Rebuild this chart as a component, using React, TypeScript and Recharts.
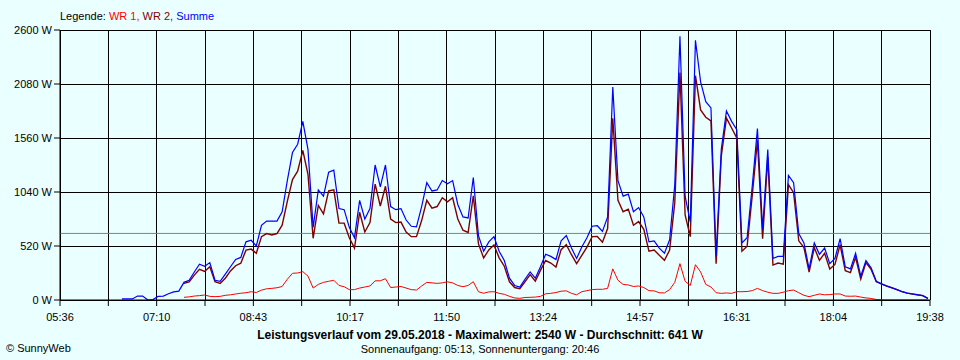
import { LineChart, Line, XAxis, YAxis, CartesianGrid, ReferenceLine } from "recharts";

// x axis: minutes since midnight, 05:36 .. 19:38, one grid line every 1/18 of the day span
const dayStart = 336;
const dayEnd = 1178;
const timeLabels = ["05:36", "07:10", "08:43", "10:17", "11:50", "13:24", "14:57", "16:31", "18:04", "19:38"];
const powerTicks = [0, 520, 1040, 1560, 2080, 2600];
const average = 641;

// samples every 5 minutes starting 06:36
const firstSample = 396;
const sampleStep = 5;

const summe = [
  10, 10, 10, 38, 38, 0, 5, 35, 38, 60,
  78, 85, 170, 190, 270, 345, 325, 360, 190, 180,
  250, 320, 390, 410, 560, 575, 520, 720, 760, 760,
  760, 850, 1150, 1420, 1500, 1720, 1450, 700, 1060, 1000,
  1230, 1250, 880, 870, 700, 600, 960, 780, 880, 1300,
  1090, 1300, 900, 870, 880, 770, 710, 705, 900, 1130,
  1050, 1060, 1150, 1120, 1150, 920, 800, 790, 1180, 620,
  470, 560, 610, 470, 380, 210, 140, 125, 200, 270,
  210, 320, 440, 420, 390, 570, 620, 500, 400, 510,
  600, 710, 715, 660, 800, 2050, 1150, 1000, 1020, 850,
  890, 800, 560, 570, 500, 450, 580, 1110, 2540, 1000,
  750, 2500, 2100, 1910, 1850, 420, 1450, 1820, 1720, 1640,
  550, 600, 1100, 1650, 680, 1450, 400, 420, 420, 1200,
  1130, 640, 550, 300, 550, 440, 500, 350, 400, 590,
  320, 300, 450, 230, 380, 310, 180, 155, 135, 118,
  100, 80, 66, 58, 50, 42, 15,
];

const wr1 = [
  null, null, null, null, null, null, null, null, null, null,
  null, null, 26, 30, 38, 42, 48, 35, 32, 35,
  45, 50, 58, 65, 70, 80, 72, 95, 108, 112,
  118, 130, 200, 257, 260, 273, 230, 115, 150, 170,
  180, 190, 140, 128, 100, 100, 115, 125, 135, 185,
  185, 205, 120, 125, 130, 115, 100, 96, 135, 170,
  165, 160, 165, 175, 165, 140, 128, 140, 176, 80,
  65, 78, 80, 64, 55, 35, 20, 16, 24, 26,
  28, 35, 60, 64, 72, 85, 88, 64, 50, 80,
  90, 100, 103, 103, 112, 300, 190, 150, 145, 130,
  135, 120, 90, 88, 70, 68, 100, 170, 350, 180,
  140, 340, 270, 150, 125, 70, 64, 68, 64, 80,
  80, 82, 90, 112, 90, 75, 64, 64, 75, 90,
  96, 70, 45, 32, 45, 58, 50, 52, 58, 58,
  38, 36, 38, 28, 20, 15, 5, 0, 0, 0,
  0, 0, 0, 0, 0, 0, 0,
];

const wr2 = [
  null, null, null, null, null, null, null, null, null, null,
  null, null, 160, 175, 240, 295, 275, 320, 176, 160,
  210, 280, 330, 355, 480, 490, 450, 610, 640, 626,
  640, 720, 950, 1160, 1240, 1440, 1210, 594, 910, 830,
  1050, 1060, 740, 740, 600, 500, 845, 655, 745, 1115,
  905, 1095, 780, 745, 750, 655, 610, 610, 765, 960,
  885, 900, 985, 945, 985, 780, 672, 650, 1004, 540,
  405, 482, 530, 406, 325, 175, 120, 109, 176, 244,
  182, 285, 380, 356, 318, 485, 532, 436, 350, 430,
  510, 610, 612, 557, 688, 1750, 960, 850, 875, 720,
  755, 680, 470, 482, 430, 382, 480, 940, 2190, 820,
  610, 2160, 1830, 1760, 1725, 350, 1386, 1752, 1656, 1560,
  470, 518, 1010, 1538, 590, 1375, 336, 356, 345, 1110,
  1034, 570, 505, 268, 505, 382, 450, 298, 342, 532,
  282, 264, 412, 202, 360, 295, 175, 155, 135, 118,
  100, 80, 66, 58, 50, 42, 15,
];

const data = summe.map((s, i) => ({
  t: firstSample + i * sampleStep,
  summe: s,
  wr1: wr1[i],
  wr2: wr2[i],
}));

const gridTicks = Array.from({ length: 19 }, (_, k) => dayStart + (k * (dayEnd - dayStart)) / 18);

const font = "'Liberation Sans', Arial, sans-serif";

export default function App() {
  return (
    <div style={{
      position: "absolute",
      left: 0,
      top: 0,
      width: 960,
      height: 360,
      background: "#eaffff",
      fontFamily: font,
      color: "#000",
    }}>
      <div style={{ position: "absolute", left: 60, top: 11, fontSize: 11, lineHeight: "11px", whiteSpace: "nowrap" }}>
        Legende: <span style={{ color: "#ff0000" }}>WR 1,</span>{" "}
        <span style={{ color: "#800000" }}>WR 2,</span>{" "}
        <span style={{ color: "#0000ff" }}>Summe</span>
      </div>

      <LineChart
        width={960}
        height={360}
        data={data}
        margin={{ top: 30, right: 30, left: 0, bottom: 0 }}
        style={{ position: "absolute", left: 0, top: 0 }}
      >
        <CartesianGrid stroke="#000" strokeOpacity={1} shapeRendering="crispEdges" />
        <XAxis
          dataKey="t"
          type="number"
          domain={[dayStart, dayEnd]}
          ticks={gridTicks}
          interval={0}
          height={60}
          tickSize={6}
          tickMargin={7}
          tick={{ fill: "#000", fontSize: 11, fontFamily: font }}
          tickLine={{ stroke: "#000" }}
          axisLine={{ stroke: "#000" }}
          tickFormatter={(v, i) => (i % 2 === 0 ? timeLabels[i / 2] : "")}
          allowDataOverflow
        />
        <YAxis
          type="number"
          domain={[0, 2600]}
          ticks={powerTicks}
          width={60}
          tickSize={6}
          tickMargin={2}
          tick={{ fill: "#000", fontSize: 11, fontFamily: font }}
          tickLine={{ stroke: "#000" }}
          axisLine={{ stroke: "#000" }}
          tickFormatter={(v) => `${v} W`}
          allowDataOverflow
        />
        <ReferenceLine y={average} stroke="#808080" strokeWidth={1} />
        <Line
          type="linear"
          dataKey="wr1"
          stroke="#ff0000"
          strokeWidth={1}
          dot={false}
          activeDot={false}
          isAnimationActive={false}
        />
        <Line
          type="linear"
          dataKey="wr2"
          stroke="#800000"
          strokeWidth={1.4}
          dot={false}
          activeDot={false}
          isAnimationActive={false}
        />
        <Line
          type="linear"
          dataKey="summe"
          stroke="#0000ff"
          strokeWidth={1.2}
          dot={false}
          activeDot={false}
          isAnimationActive={false}
        />
      </LineChart>

      <div style={{ position: "absolute", left: 0, width: 960, top: 329, textAlign: "center", fontSize: 12, lineHeight: "12px", fontWeight: "bold", whiteSpace: "nowrap" }}>
        Leistungsverlauf vom 29.05.2018 - Maximalwert: 2540 W - Durchschnitt: 641 W
      </div>
      <div style={{ position: "absolute", left: 0, width: 960, top: 344, textAlign: "center", fontSize: 11, lineHeight: "11px", whiteSpace: "nowrap" }}>
        Sonnenaufgang: 05:13, Sonnenuntergang: 20:46
      </div>
      <div style={{ position: "absolute", left: 6, top: 343, fontSize: 11, lineHeight: "11px", whiteSpace: "nowrap" }}>
        © SunnyWeb
      </div>
    </div>
  );
}
